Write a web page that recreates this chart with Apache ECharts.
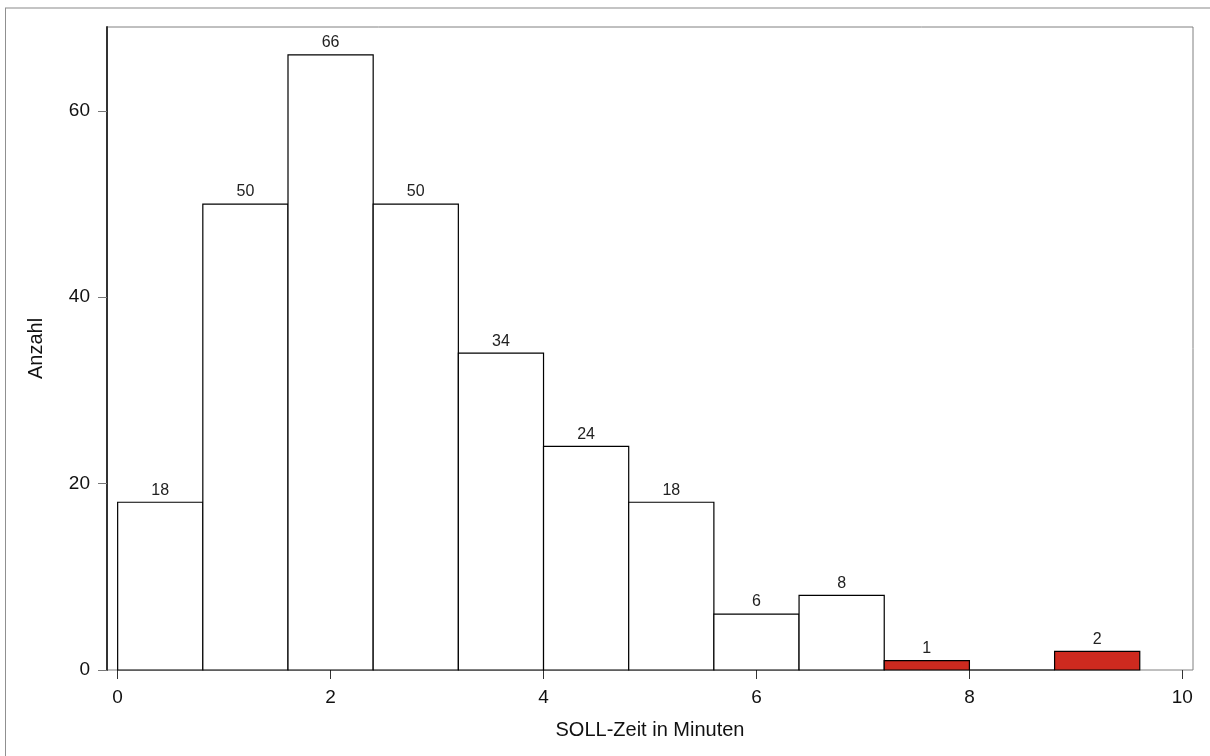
<!DOCTYPE html>
<html>
<head>
<meta charset="utf-8">
<script src="https://cdn.jsdelivr.net/npm/echarts@6/dist/echarts.min.js"></script>
<style>
html,body{margin:0;padding:0;background:#fff;}
#chart{width:1210px;height:756px;}
</style>
</head>
<body>
<div id="chart"></div>
<script>
// Histogram bins (SOLL-Zeit in Minuten)
const binEdges = [0, 0.8, 1.6, 2.4, 3.2, 4.0, 4.8, 5.6, 6.4, 7.2, 8.0, 8.8, 9.6];
const counts   = [18, 50, 66, 50, 34, 24, 18, 6, 8, 1, 0, 2];
const highlighted = [false, false, false, false, false, false, false, false, false, true, true, true];
const xTickValues = [0, 2, 4, 6, 8, 10];
const yTickValues = [0, 20, 40, 60];
const xTitle = 'SOLL-Zeit in Minuten';
const yTitle = 'Anzahl';

const data = counts.map((c, i) => [binEdges[i], binEdges[i + 1], c, highlighted[i] ? 1 : 0]);

const FONT = '"Liberation Sans", Arial, sans-serif';
const chart = echarts.init(document.getElementById('chart'), null, {renderer: 'canvas'});

chart.setOption({
  animation: false,
  backgroundColor: '#fff',
  graphic: [
    {type: 'line', shape: {x1: 5, y1: 8, x2: 1210, y2: 8}, style: {stroke: '#c4c4c4', lineWidth: 2}, silent: true},
    {type: 'line', shape: {x1: 5.5, y1: 8, x2: 5.5, y2: 756}, style: {stroke: '#909090', lineWidth: 1}, silent: true}
  ],
  grid: {
    left: 107, right: 17, top: 27, bottom: 86,
    show: true, borderColor: '#808080', borderWidth: 1, backgroundColor: 'transparent'
  },
  xAxis: {
    type: 'value', min: -0.1, max: 10.1,
    name: xTitle, nameLocation: 'middle', nameGap: 50,
    nameTextStyle: {fontFamily: FONT, fontSize: 20, color: '#111'},
    axisLine: {show: false, onZero: false},
    axisTick: {show: true, length: 9, lineStyle: {color: '#333'}, customValues: xTickValues},
    axisLabel: {fontFamily: FONT, fontSize: 19, color: '#111', margin: 18, customValues: xTickValues},
    splitLine: {show: false}
  },
  yAxis: {
    type: 'value', min: 0, max: 69,
    name: yTitle, nameLocation: 'middle', nameGap: 61,
    nameTextStyle: {fontFamily: FONT, fontSize: 20, color: '#111'},
    axisLine: {show: true, onZero: false, lineStyle: {color: '#333', width: 2}},
    axisTick: {show: true, length: 9, lineStyle: {color: '#777'}, customValues: yTickValues},
    axisLabel: {fontFamily: FONT, fontSize: 19, color: '#111', margin: 17, customValues: yTickValues},
    splitLine: {show: false}
  },
  series: [{
    type: 'custom',
    data: data,
    encode: {x: [0, 1], y: 2},
    renderItem: function (params, api) {
      const x0 = api.value(0), x1 = api.value(1), c = api.value(2), hl = api.value(3);
      const p0 = api.coord([x0, c]);
      const p1 = api.coord([x1, 0]);
      const children = [{
        type: 'rect',
        shape: {x: p0[0], y: p0[1], width: p1[0] - p0[0], height: p1[1] - p0[1]},
        style: {fill: hl ? '#CD2A1F' : '#fff', stroke: '#000', lineWidth: 1.2}
      }];
      if (c > 0) {
        children.push({
          type: 'text',
          style: {
            text: String(c), x: (p0[0] + p1[0]) / 2, y: p0[1] - 4,
            align: 'center', verticalAlign: 'bottom',
            font: '16px ' + FONT, fill: '#222'
          }
        });
      }
      return {type: 'group', children: children};
    },
    z: 3
  }]
});
</script>
</body>
</html>
